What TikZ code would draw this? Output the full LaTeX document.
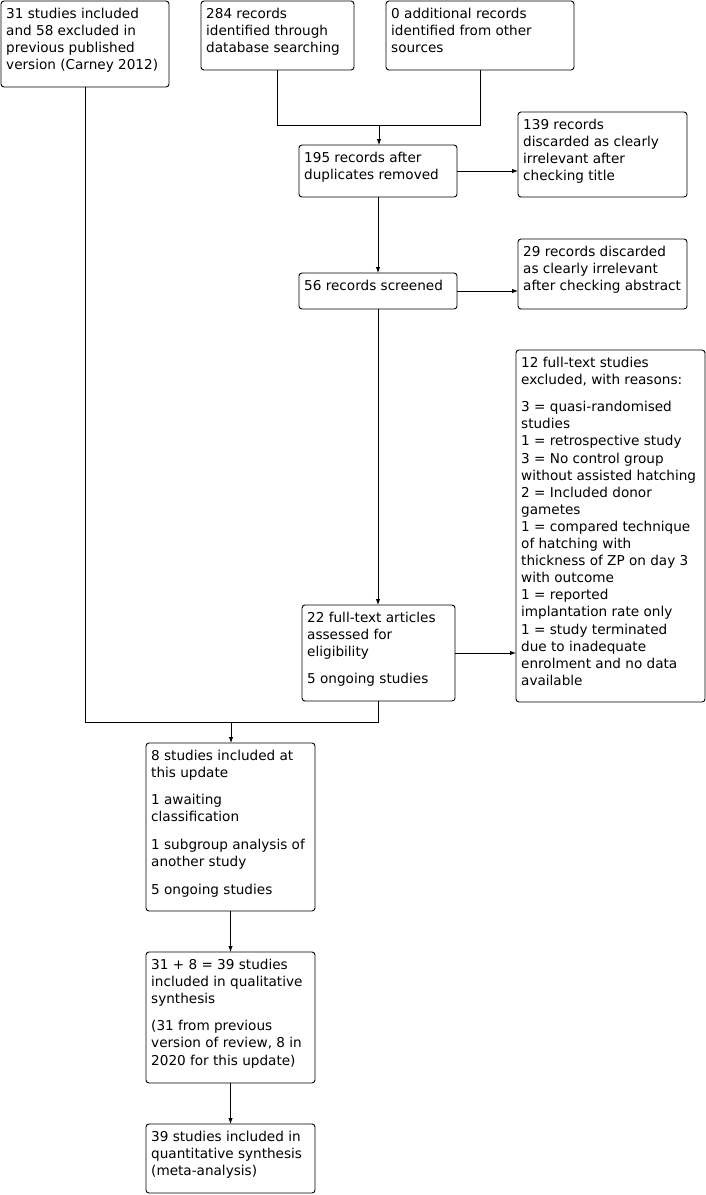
\documentclass[tikz,border=0pt]{standalone}
\usepackage{fontspec}
\setmainfont{DejaVu Sans}
\usetikzlibrary{arrows.meta}
\tikzset{
  boxframe/.style={draw, line width=0.9pt, rounded corners=3pt, inner sep=0pt, outer sep=0pt, anchor=north west},
  boxtxt/.style={inner sep=0pt, anchor=north west, align=left, font=\fontsize{13.6}{17.1}\selectfont},
  conn/.style={line width=0.9pt},
  arr/.style={conn, -{Latex[length=6pt,width=4.5pt]}}
}
\newcommand\pbox[6]{%
  \node[boxframe, minimum width=#4pt, minimum height=#5pt] (#1) at (#2,#3) {};
  \node[boxtxt] (#1t) at (#2+5,#3+6.5) {#6};
}
\begin{document}
\begin{tikzpicture}[x=1pt,y=-1pt]
\useasboundingbox (0,0) rectangle (706,1195);
\pbox{A}{1}{1}{168}{86}{31 studies included\\and 58 excluded in\\previous published\\version (Carney 2012)}
\pbox{B}{201}{1}{153}{69}{284 records\\identified through\\database searching}
\pbox{C}{386}{1}{188}{69}{0 additional records\\identified from other\\sources}
\pbox{D}{299}{145}{158}{52}{195 records after\\duplicates removed}
\pbox{E}{518}{112}{169}{85}{139 records\\discarded as clearly\\irrelevant after\\checking title}
\pbox{F}{299}{273}{158}{36}{56 records screened}
\pbox{G}{518}{239}{169}{70}{29 records discarded\\as clearly irrelevant\\after checking abstract}
\pbox{H}{302}{605}{153}{96}{22 full-text articles\\assessed for\\eligibility\\[10.5pt]5 ongoing studies}
\pbox{I}{516}{350}{189}{352}{12 full-text studies\\excluded, with reasons:\\[10.5pt]3 = quasi-randomised\\studies\\1 = retrospective study\\3 = No control group\\without assisted hatching\\2 = Included donor\\gametes\\1 = compared technique\\of hatching with\\thickness of ZP on day 3\\with outcome\\1 = reported\\implantation rate only\\1 = study terminated\\due to inadequate\\enrolment and no data\\available}
\pbox{J}{146}{743}{169}{168}{8 studies included at\\this update\\[10.5pt]1 awaiting\\classification\\[10.5pt]1 subgroup analysis of\\another study\\[10.5pt]5 ongoing studies}
\pbox{K}{146}{952}{169}{131}{31 + 8 = 39 studies\\included in qualitative\\synthesis\\[10.5pt](31 from previous\\version of review, 8 in\\2020 for this update)}
\pbox{L}{146}{1124}{169}{69}{39 studies included in\\quantitative synthesis\\(meta-analysis)}
\coordinate (j1) at (379,125);
\coordinate (j2) at (231,722);
\draw[conn] (B.south) |- (j1);
\draw[conn] (C.south) |- (j1);
\draw[arr] (j1) -- (j1 |- D.north);
\draw[arr] (D.east) -- (D.east -| E.west);
\draw[arr] (D.south) -- (D.south |- F.north);
\draw[arr] (F.east) -- (F.east -| G.west);
\draw[arr] (F.south) -- (F.south |- H.north);
\draw[arr] (H.east) -- (H.east -| I.west);
\draw[conn] (A.south) |- (j2) -| (H.south);
\draw[arr] (j2) -- (j2 |- J.north);
\draw[arr] (J.south) -- (J.south |- K.north);
\draw[arr] (K.south) -- (K.south |- L.north);
\end{tikzpicture}
\end{document}
